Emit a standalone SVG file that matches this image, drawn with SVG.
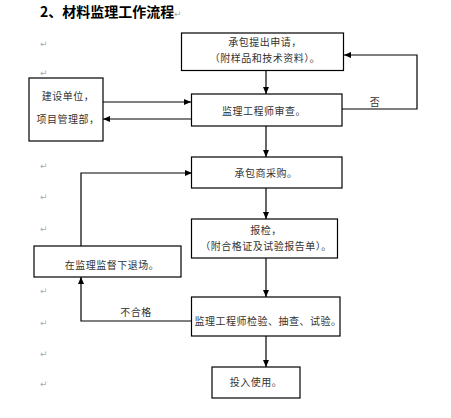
<svg xmlns="http://www.w3.org/2000/svg" width="451" height="418" viewBox="0 0 451 418">
<style>
.box{fill:#fff;stroke:#000;stroke-width:1.2}
.t{font-family:"Noto Sans CJK SC","Liberation Sans",sans-serif;font-size:10px;fill:#333;text-anchor:middle;letter-spacing:0.5px}
.pm{font-family:"DejaVu Sans",sans-serif;font-size:9px;fill:#aaa}
.ln{fill:none;stroke:#000;stroke-width:1.2}
</style>
<defs>
<marker id="ah" markerWidth="8" markerHeight="8" refX="7" refY="4" orient="auto" markerUnits="userSpaceOnUse">
<path d="M0,1 L7,4 L0,7 Z" fill="#000"/>
</marker>
</defs>
<rect width="451" height="418" fill="#fff"/>
<text x="40" y="17" font-family="'Noto Sans CJK SC',sans-serif" font-size="14" font-weight="bold" fill="#000">2、材料监理工作流程</text>
<g id="marks">
<text class="pm" x="174" y="17">↵</text>
<text class="pm" x="40" y="47">↵</text>
<text class="pm" x="40" y="76">↵</text>
<text class="pm" x="40" y="169">↵</text>
<text class="pm" x="40" y="200">↵</text>
<text class="pm" x="40" y="232">↵</text>
<text class="pm" x="40" y="294">↵</text>
<text class="pm" x="40" y="326">↵</text>
<text class="pm" x="40" y="357">↵</text>
<text class="pm" x="40" y="387">↵</text>
</g>
<g id="connectors">
<line class="ln" x1="266" y1="71" x2="266" y2="94" marker-end="url(#ah)"/>
<polyline class="ln" points="342,109 417,109 417,55 344,55" marker-end="url(#ah)"/>
<line class="ln" x1="103" y1="102" x2="191" y2="102" marker-end="url(#ah)"/>
<line class="ln" x1="191" y1="119" x2="103" y2="119" marker-end="url(#ah)"/>
<line class="ln" x1="266" y1="126" x2="266" y2="157" marker-end="url(#ah)"/>
<polyline class="ln" points="81,246 81,173 192,173" marker-end="url(#ah)"/>
<line class="ln" x1="266" y1="188" x2="266" y2="219" marker-end="url(#ah)"/>
<line class="ln" x1="266" y1="258" x2="266" y2="297" marker-end="url(#ah)"/>
<polyline class="ln" points="192,321 81,321 81,277" marker-end="url(#ah)"/>
<line class="ln" x1="266" y1="336" x2="266" y2="367" marker-end="url(#ah)"/>
<text class="t" x="375" y="106">否</text>
<text class="t" x="136" y="316">不合格</text>
</g>
<g id="n1"><rect class="box" x="181.5" y="33" width="162" height="37.5"/><text class="t" x="265" y="46">承包提出申请，</text><text class="t" x="265" y="62">（附样品和技术资料）。</text></g>
<g id="n2"><rect class="box" x="191.5" y="94" width="150.5" height="32"/><text class="t" x="264" y="115">监理工程师审查。</text></g>
<g id="n3"><rect class="box" x="29" y="78" width="74" height="63"/><text class="t" x="68" y="100">建设单位，</text><text class="t" x="68" y="123">项目管理部，</text></g>
<g id="n4"><rect class="box" x="191.5" y="157" width="150.5" height="31"/><text class="t" x="266" y="177">承包商采购。</text></g>
<g id="n5"><rect class="box" x="191.5" y="219" width="146" height="39"/><text class="t" x="266" y="234">报检，</text><text class="t" x="266" y="250">（附合格证及试验报告单）。</text></g>
<g id="n6"><rect class="box" x="34" y="246" width="147" height="31"/><text class="t" x="112" y="269">在监理监督下退场。</text></g>
<g id="n7"><rect class="box" x="191.5" y="297" width="148.5" height="39"/><text class="t" x="268" y="325">监理工程师检验、抽查、试验。</text></g>
<g id="n8"><rect class="box" x="212" y="367" width="88" height="31"/><text class="t" x="256" y="386">投入使用。</text></g>
</svg>
